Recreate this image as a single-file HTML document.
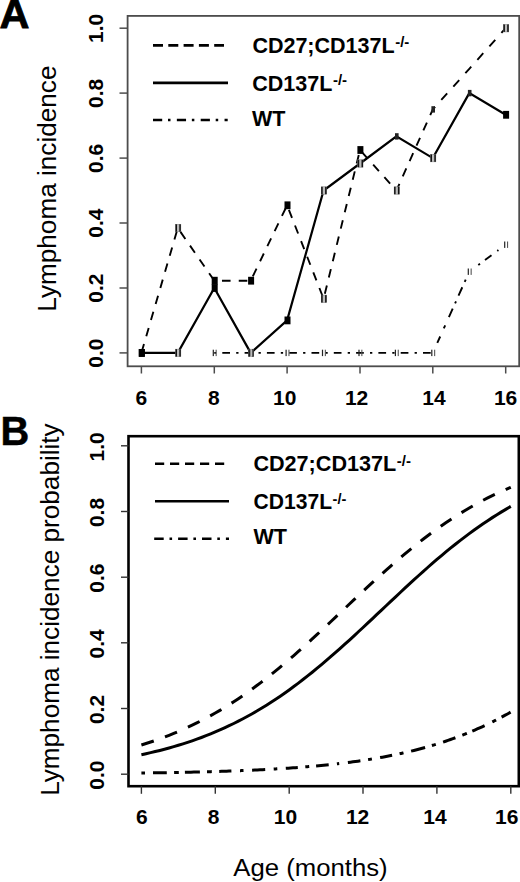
<!DOCTYPE html>
<html><head><meta charset="utf-8"><style>
html,body{margin:0;padding:0;background:#fff;}
svg{display:block;}
text{font-family:"Liberation Sans",sans-serif;}
</style></head><body>
<svg width="520" height="882" viewBox="0 0 520 882">
<rect width="520" height="882" fill="#fff"/>
<text x="-0.5" y="27.8" font-size="41.5" font-weight="bold" fill="#000" stroke="#000" stroke-width="0.8">A</text>
<text transform="translate(0.6,444.6) scale(0.96,1)" font-size="41.5" font-weight="bold" fill="#000" stroke="#000" stroke-width="0.5">B</text>
<rect x="127.6" y="15.9" width="391.6" height="350.4" fill="none" stroke="#4c4c4c" stroke-width="1.8"/>
<line x1="141.4" y1="366.3" x2="141.4" y2="373.5" stroke="#4c4c4c" stroke-width="1.5"/>
<line x1="214.3" y1="366.3" x2="214.3" y2="373.5" stroke="#4c4c4c" stroke-width="1.5"/>
<line x1="287.1" y1="366.3" x2="287.1" y2="373.5" stroke="#4c4c4c" stroke-width="1.5"/>
<line x1="360.0" y1="366.3" x2="360.0" y2="373.5" stroke="#4c4c4c" stroke-width="1.5"/>
<line x1="432.8" y1="366.3" x2="432.8" y2="373.5" stroke="#4c4c4c" stroke-width="1.5"/>
<line x1="505.7" y1="366.3" x2="505.7" y2="373.5" stroke="#4c4c4c" stroke-width="1.5"/>
<line x1="119.5" y1="352.9" x2="127.6" y2="352.9" stroke="#4c4c4c" stroke-width="1.5"/>
<line x1="119.5" y1="288.0" x2="127.6" y2="288.0" stroke="#4c4c4c" stroke-width="1.5"/>
<line x1="119.5" y1="223.0" x2="127.6" y2="223.0" stroke="#4c4c4c" stroke-width="1.5"/>
<line x1="119.5" y1="158.1" x2="127.6" y2="158.1" stroke="#4c4c4c" stroke-width="1.5"/>
<line x1="119.5" y1="93.1" x2="127.6" y2="93.1" stroke="#4c4c4c" stroke-width="1.5"/>
<line x1="119.5" y1="28.2" x2="127.6" y2="28.2" stroke="#4c4c4c" stroke-width="1.5"/>
<text x="141.3" y="404.6" font-size="21" font-weight="bold" text-anchor="middle" fill="#000">6</text>
<text x="213.8" y="404.6" font-size="21" font-weight="bold" text-anchor="middle" fill="#000">8</text>
<text x="284.8" y="404.6" font-size="21" font-weight="bold" text-anchor="middle" fill="#000">10</text>
<text x="356.6" y="404.6" font-size="21" font-weight="bold" text-anchor="middle" fill="#000">12</text>
<text x="434" y="404.6" font-size="21" font-weight="bold" text-anchor="middle" fill="#000">14</text>
<text x="505.6" y="404.6" font-size="21" font-weight="bold" text-anchor="middle" fill="#000">16</text>
<text transform="translate(102.8,353.1) rotate(-90)" font-size="21" font-weight="bold" text-anchor="middle" fill="#000">0.0</text>
<text transform="translate(102.8,288.2) rotate(-90)" font-size="21" font-weight="bold" text-anchor="middle" fill="#000">0.2</text>
<text transform="translate(102.8,223.2) rotate(-90)" font-size="21" font-weight="bold" text-anchor="middle" fill="#000">0.4</text>
<text transform="translate(102.8,158.3) rotate(-90)" font-size="21" font-weight="bold" text-anchor="middle" fill="#000">0.6</text>
<text transform="translate(102.8,93.3) rotate(-90)" font-size="21" font-weight="bold" text-anchor="middle" fill="#000">0.8</text>
<text transform="translate(102.8,28.4) rotate(-90)" font-size="21" font-weight="bold" text-anchor="middle" fill="#000">1.0</text>
<text transform="translate(56.3,188.6) rotate(-90) scale(1.046,1)" font-size="25" text-anchor="middle" fill="#000">Lymphoma incidence</text>
<polyline points="141.4,352.9 177.8,228.0 214.3,280.7 250.7,280.7 287.1,205.3 323.6,298.8 360.0,150.0 396.4,190.5 432.8,109.4" fill="none" stroke="#000" stroke-width="1.9" stroke-dasharray="8.6,8.17" stroke-dashoffset="16.14"/>
<polyline points="432.8,109.4 469.3,68.8 505.7,28.2" fill="none" stroke="#000" stroke-width="1.9" stroke-dasharray="8.8,9.2" stroke-dashoffset="5.3"/>
<polyline points="141.4,352.9 177.8,352.9 214.3,288.0 250.7,352.9 287.1,320.4 323.6,190.5 360.0,163.5 396.4,136.4 432.8,158.1 469.3,93.1 505.7,114.8" fill="none" stroke="#000" stroke-width="2.2"/>
<line x1="214.26" y1="352.90" x2="432.84" y2="352.90" stroke="#000" stroke-width="1.9" stroke-dasharray="7.7,6.2,2.3,6.1" stroke-dashoffset="14.26"/>
<path d="M437.30,342.96 L440.20,336.50 M443.80,328.48 L445.20,325.36 M448.90,317.11 L452.70,308.65 M455.10,303.30 L456.00,301.29 M458.50,295.72 L462.30,287.26 M464.70,281.91 L465.70,279.68 M478.30,265.02 L480.00,263.76 M485.00,260.04 L491.50,255.21 M497.30,250.91 L498.40,250.09" fill="none" stroke="#000" stroke-width="1.9"/>
<rect x="138.8" y="349.0" width="6" height="7.8" fill="#000"/>
<rect x="175.6" y="224.3" width="5.2" height="7.4" fill="#bbb" stroke="#888" stroke-width="0.6"/><rect x="175.5" y="224.3" width="1.5" height="7.4" fill="#111"/><rect x="179.3" y="224.3" width="1.5" height="7.4" fill="#111"/>
<rect x="211.7" y="276.8" width="6" height="7.8" fill="#000"/>
<rect x="248.1" y="276.8" width="6" height="7.8" fill="#000"/>
<rect x="284.5" y="201.4" width="6" height="7.8" fill="#000"/>
<rect x="321.3" y="295.1" width="5.2" height="7.4" fill="#bbb" stroke="#888" stroke-width="0.6"/><rect x="321.2" y="295.1" width="1.5" height="7.4" fill="#111"/><rect x="325.1" y="295.1" width="1.5" height="7.4" fill="#111"/>
<rect x="357.4" y="146.1" width="6" height="7.8" fill="#000"/>
<rect x="394.2" y="186.8" width="5.2" height="7.4" fill="#bbb" stroke="#888" stroke-width="0.6"/><rect x="394.1" y="186.8" width="1.5" height="7.4" fill="#111"/><rect x="397.9" y="186.8" width="1.5" height="7.4" fill="#111"/>
<rect x="431.4" y="106.2" width="3.6" height="6.4" fill="#222"/>

<rect x="503.5" y="24.5" width="5.2" height="7.4" fill="#bbb" stroke="#888" stroke-width="0.6"/><rect x="503.4" y="24.5" width="1.5" height="7.4" fill="#111"/><rect x="507.2" y="24.5" width="1.5" height="7.4" fill="#111"/>
<rect x="138.8" y="349.0" width="6" height="7.8" fill="#000"/>
<rect x="175.6" y="349.2" width="5.2" height="7.4" fill="#bbb" stroke="#888" stroke-width="0.6"/><rect x="175.5" y="349.2" width="1.5" height="7.4" fill="#111"/><rect x="179.3" y="349.2" width="1.5" height="7.4" fill="#111"/>
<rect x="211.7" y="284.1" width="6" height="7.8" fill="#000"/>
<rect x="248.5" y="349.2" width="5.2" height="7.4" fill="#bbb" stroke="#888" stroke-width="0.6"/><rect x="248.4" y="349.2" width="1.5" height="7.4" fill="#111"/><rect x="252.2" y="349.2" width="1.5" height="7.4" fill="#111"/>
<rect x="284.5" y="316.5" width="6" height="7.8" fill="#000"/>
<rect x="321.3" y="186.8" width="5.2" height="7.4" fill="#bbb" stroke="#888" stroke-width="0.6"/><rect x="321.2" y="186.8" width="1.5" height="7.4" fill="#111"/><rect x="325.1" y="186.8" width="1.5" height="7.4" fill="#111"/>
<rect x="357.8" y="159.8" width="5.2" height="7.4" fill="#bbb" stroke="#888" stroke-width="0.6"/><rect x="357.7" y="159.8" width="1.5" height="7.4" fill="#111"/><rect x="361.5" y="159.8" width="1.5" height="7.4" fill="#111"/>
<rect x="395.0" y="133.2" width="3.6" height="6.4" fill="#222"/>
<rect x="430.6" y="154.4" width="5.2" height="7.4" fill="#bbb" stroke="#888" stroke-width="0.6"/><rect x="430.5" y="154.4" width="1.5" height="7.4" fill="#111"/><rect x="434.3" y="154.4" width="1.5" height="7.4" fill="#111"/>
<rect x="467.9" y="89.9" width="3.6" height="6.4" fill="#222"/>
<rect x="503.1" y="110.9" width="6" height="7.8" fill="#000"/>
<rect x="212.7" y="349.7" width="1.2" height="6.4" fill="#222"/><rect x="215.6" y="349.7" width="1.1" height="6.4" fill="#555"/>
<rect x="249.1" y="349.7" width="1.2" height="6.4" fill="#222"/><rect x="252.0" y="349.7" width="1.1" height="6.4" fill="#555"/>
<rect x="285.5" y="349.7" width="1.2" height="6.4" fill="#222"/><rect x="288.4" y="349.7" width="1.1" height="6.4" fill="#555"/>
<rect x="321.9" y="349.7" width="1.2" height="6.4" fill="#222"/><rect x="324.8" y="349.7" width="1.1" height="6.4" fill="#555"/>
<rect x="358.4" y="349.7" width="1.2" height="6.4" fill="#222"/><rect x="361.3" y="349.7" width="1.1" height="6.4" fill="#555"/>
<rect x="394.8" y="349.7" width="1.2" height="6.4" fill="#222"/><rect x="397.7" y="349.7" width="1.1" height="6.4" fill="#555"/>
<rect x="431.2" y="349.7" width="1.2" height="6.4" fill="#222"/><rect x="434.1" y="349.7" width="1.1" height="6.4" fill="#555"/>
<rect x="467.7" y="268.5" width="1.2" height="6.4" fill="#222"/><rect x="470.6" y="268.5" width="1.1" height="6.4" fill="#555"/>
<rect x="504.1" y="241.5" width="1.2" height="6.4" fill="#222"/><rect x="507.0" y="241.5" width="1.1" height="6.4" fill="#555"/>
<line x1="153" y1="45.4" x2="224" y2="45.4" stroke="#000" stroke-width="2.6" stroke-dasharray="10,5.3"/>
<line x1="153" y1="82.9" x2="228" y2="82.9" stroke="#000" stroke-width="2.6"/>
<line x1="153" y1="120" x2="227.7" y2="120" stroke="#000" stroke-width="2.6" stroke-dasharray="9.2,5.8,2.5,6.35"/>
<text transform="translate(252.4,52.6) scale(1.0,1)" font-size="21.5" font-weight="bold" fill="#000">CD27;CD137L<tspan font-size="15" dx="0.6" dy="-5.4">-/-</tspan></text>
<text transform="translate(252.3,90.6) scale(1.0,1)" font-size="21.5" font-weight="bold" fill="#000">CD137L<tspan font-size="15" dx="0.6" dy="-5.4">-/-</tspan></text>
<text transform="translate(251.9,126) scale(1.0,1)" font-size="21.5" font-weight="bold" fill="#000">WT</text>
<rect x="128.5" y="436.2" width="390.3" height="350" fill="none" stroke="#000" stroke-width="2.6"/>
<line x1="141.4" y1="786.2" x2="141.4" y2="793.8" stroke="#333" stroke-width="1.4"/>
<line x1="215.3" y1="786.2" x2="215.3" y2="793.8" stroke="#333" stroke-width="1.4"/>
<line x1="289.2" y1="786.2" x2="289.2" y2="793.8" stroke="#333" stroke-width="1.4"/>
<line x1="363.0" y1="786.2" x2="363.0" y2="793.8" stroke="#333" stroke-width="1.4"/>
<line x1="436.9" y1="786.2" x2="436.9" y2="793.8" stroke="#333" stroke-width="1.4"/>
<line x1="510.8" y1="786.2" x2="510.8" y2="793.8" stroke="#333" stroke-width="1.4"/>
<line x1="121" y1="774.2" x2="128.5" y2="774.2" stroke="#333" stroke-width="1.4"/>
<line x1="121" y1="708.5" x2="128.5" y2="708.5" stroke="#333" stroke-width="1.4"/>
<line x1="121" y1="642.8" x2="128.5" y2="642.8" stroke="#333" stroke-width="1.4"/>
<line x1="121" y1="577.2" x2="128.5" y2="577.2" stroke="#333" stroke-width="1.4"/>
<line x1="121" y1="511.5" x2="128.5" y2="511.5" stroke="#333" stroke-width="1.4"/>
<line x1="121" y1="445.8" x2="128.5" y2="445.8" stroke="#333" stroke-width="1.4"/>
<text x="141.9" y="823.8" font-size="21" font-weight="bold" text-anchor="middle" fill="#000">6</text>
<text x="213.5" y="823.8" font-size="21" font-weight="bold" text-anchor="middle" fill="#000">8</text>
<text x="285.5" y="823.8" font-size="21" font-weight="bold" text-anchor="middle" fill="#000">10</text>
<text x="357.6" y="823.8" font-size="21" font-weight="bold" text-anchor="middle" fill="#000">12</text>
<text x="435" y="823.8" font-size="21" font-weight="bold" text-anchor="middle" fill="#000">14</text>
<text x="506.8" y="823.8" font-size="21" font-weight="bold" text-anchor="middle" fill="#000">16</text>
<text transform="translate(104.4,775.2) rotate(-90)" font-size="21" font-weight="bold" text-anchor="middle" fill="#000">0.0</text>
<text transform="translate(104.4,709.5) rotate(-90)" font-size="21" font-weight="bold" text-anchor="middle" fill="#000">0.2</text>
<text transform="translate(104.4,643.8) rotate(-90)" font-size="21" font-weight="bold" text-anchor="middle" fill="#000">0.4</text>
<text transform="translate(104.4,578.2) rotate(-90)" font-size="21" font-weight="bold" text-anchor="middle" fill="#000">0.6</text>
<text transform="translate(104.4,512.5) rotate(-90)" font-size="21" font-weight="bold" text-anchor="middle" fill="#000">0.8</text>
<text transform="translate(104.4,446.8) rotate(-90)" font-size="21" font-weight="bold" text-anchor="middle" fill="#000">1.0</text>
<text transform="translate(58.8,609.6) rotate(-90) scale(1.046,1)" font-size="25" text-anchor="middle" fill="#000">Lymphoma incidence probability</text>
<polyline points="141.40,744.99 146.02,743.54 150.63,742.03 155.25,740.45 159.87,738.80 164.49,737.08 169.11,735.29 173.72,733.43 178.34,731.49 182.96,729.47 187.57,727.37 192.19,725.20 196.81,722.93 201.43,720.59 206.05,718.16 210.66,715.64 215.28,713.03 219.90,710.34 224.51,707.55 229.13,704.68 233.75,701.72 238.37,698.66 242.99,695.52 247.60,692.29 252.22,688.98 256.84,685.57 261.45,682.08 266.07,678.51 270.69,674.86 275.31,671.14 279.92,667.33 284.54,663.46 289.16,659.52 293.78,655.51 298.39,651.45 303.01,647.33 307.63,643.16 312.25,638.94 316.87,634.69 321.48,630.40 326.10,626.08 330.72,621.74 335.34,617.39 339.95,613.02 344.57,608.65 349.19,604.28 353.80,599.92 358.42,595.57 363.04,591.24 367.66,586.94 372.27,582.67 376.89,578.44 381.51,574.25 386.13,570.11 390.75,566.03 395.36,562.00 399.98,558.03 404.60,554.13 409.22,550.30 413.83,546.55 418.45,542.87 423.07,539.27 427.68,535.75 432.30,532.31 436.92,528.96 441.54,525.70 446.15,522.52 450.77,519.44 455.39,516.44 460.01,513.53 464.62,510.71 469.24,507.98 473.86,505.34 478.48,502.79 483.10,500.33 487.71,497.95 492.33,495.66 496.95,493.45 501.56,491.32 506.18,489.27 510.80,487.30" fill="none" stroke="#000" stroke-width="3" stroke-dasharray="13,11.93"/>
<polyline points="141.40,754.70 146.02,753.70 150.63,752.66 155.25,751.56 159.87,750.42 164.49,749.22 169.11,747.97 173.72,746.66 178.34,745.29 182.96,743.85 187.57,742.36 192.19,740.80 196.81,739.17 201.43,737.48 206.05,735.71 210.66,733.87 215.28,731.95 219.90,729.96 224.51,727.88 229.13,725.73 233.75,723.50 238.37,721.18 242.99,718.77 247.60,716.28 252.22,713.71 256.84,711.04 261.45,708.29 266.07,705.45 270.69,702.52 275.31,699.50 279.92,696.39 284.54,693.19 289.16,689.91 293.78,686.54 298.39,683.08 303.01,679.55 307.63,675.93 312.25,672.23 316.87,668.46 321.48,664.62 326.10,660.71 330.72,656.73 335.34,652.70 339.95,648.61 344.57,644.46 349.19,640.27 353.80,636.04 358.42,631.77 363.04,627.48 367.66,623.16 372.27,618.82 376.89,614.46 381.51,610.10 386.13,605.75 390.75,601.39 395.36,597.05 399.98,592.73 404.60,588.43 409.22,584.16 413.83,579.93 418.45,575.74 423.07,571.59 427.68,567.50 432.30,563.46 436.92,559.48 441.54,555.57 446.15,551.72 450.77,547.95 455.39,544.25 460.01,540.63 464.62,537.09 469.24,533.63 473.86,530.25 478.48,526.97 483.10,523.76 487.71,520.65 492.33,517.63 496.95,514.69 501.56,511.85 506.18,509.09 510.80,506.42" fill="none" stroke="#000" stroke-width="3"/>
<path d="M141.40,773.03 L142.12,773.02 L142.84,773.01 L143.56,773.00 L144.28,772.99 L145.00,772.98 M153.00,772.86 L155.76,772.82 L158.52,772.78 L161.28,772.73 L164.04,772.69 L166.80,772.64 M174.10,772.51 L175.04,772.49 L175.98,772.47 L176.92,772.45 L177.86,772.43 L178.80,772.41 M184.90,772.29 L187.90,772.22 L190.90,772.15 L193.90,772.08 L196.90,772.01 L199.90,771.94 M207.00,771.75 L207.96,771.72 L208.92,771.70 L209.88,771.67 L210.84,771.64 L211.80,771.61 M219.20,771.39 L221.64,771.31 L224.08,771.23 L226.52,771.15 L228.96,771.07 L231.40,770.98 M240.00,770.65 L240.70,770.63 L241.40,770.60 L242.10,770.57 L242.80,770.54 L243.50,770.51 M252.10,770.14 L254.72,770.02 L257.34,769.89 L259.96,769.77 L262.58,769.64 L265.20,769.50 M273.70,769.03 L274.42,768.99 L275.14,768.95 L275.86,768.91 L276.58,768.87 L277.30,768.82 M285.80,768.29 L288.20,768.13 L290.60,767.97 L293.00,767.80 L295.40,767.63 L297.80,767.45 M305.30,766.86 L306.08,766.80 L306.86,766.74 L307.64,766.67 L308.42,766.61 L309.20,766.54 M316.10,765.94 L318.62,765.70 L321.14,765.46 L323.66,765.22 L326.18,764.97 L328.70,764.71 M336.90,763.81 L337.36,763.76 L337.82,763.71 L338.28,763.66 L338.74,763.60 L339.20,763.55 M347.90,762.49 L350.40,762.16 L352.90,761.83 L355.40,761.49 L357.90,761.14 L360.40,760.78 M368.10,759.61 L368.86,759.49 L369.62,759.37 L370.38,759.25 L371.14,759.13 L371.90,759.00 M380.10,757.60 L382.50,757.17 L384.90,756.73 L387.30,756.27 L389.70,755.81 L392.10,755.33 M399.60,753.76 L400.38,753.59 L401.16,753.42 L401.94,753.25 L402.72,753.08 L403.50,752.90 M411.10,751.12 L413.90,750.43 L416.70,749.73 L419.50,749.00 L422.30,748.25 L425.10,747.49 M431.90,745.54 L432.68,745.31 L433.46,745.07 L434.24,744.84 L435.02,744.60 L435.80,744.36 M443.10,742.05 L445.56,741.23 L448.02,740.40 L450.48,739.54 L452.94,738.67 L455.40,737.78 M462.30,735.18 L463.22,734.82 L464.14,734.46 L465.06,734.09 L465.98,733.72 L466.90,733.35 M472.30,731.12 L474.76,730.07 L477.22,728.99 L479.68,727.90 L482.14,726.78 L484.60,725.64 M492.30,721.92 L493.06,721.55 L493.82,721.17 L494.58,720.78 L495.34,720.40 L496.10,720.01 M501.60,717.14 L503.40,716.17 L505.20,715.19 L507.00,714.20 L508.80,713.19 L510.60,712.18" fill="none" stroke="#000" stroke-width="3"/>
<line x1="155" y1="463.8" x2="224.4" y2="463.8" stroke="#000" stroke-width="2.6" stroke-dasharray="9.2,5.8"/>
<line x1="155" y1="501.3" x2="229" y2="501.3" stroke="#000" stroke-width="2.6"/>
<line x1="154.2" y1="538.8" x2="229" y2="538.8" stroke="#000" stroke-width="2.6" stroke-dasharray="9.5,5.8,2.6,6"/>
<text transform="translate(253.4,471) scale(1.0,1)" font-size="21.6" font-weight="bold" fill="#000">CD27;CD137L<tspan font-size="15" dx="0.6" dy="-5.4">-/-</tspan></text>
<text transform="translate(253.6,509.1) scale(0.975,1)" font-size="21.6" font-weight="bold" fill="#000">CD137L<tspan font-size="15" dx="0.6" dy="-5.4">-/-</tspan></text>
<text transform="translate(253.4,544.2) scale(1.0,1)" font-size="21.6" font-weight="bold" fill="#000">WT</text>
<text transform="translate(233.3,876.2) scale(1.05,1)" font-size="24.5" fill="#000">Age (months)</text>
</svg></body></html>
